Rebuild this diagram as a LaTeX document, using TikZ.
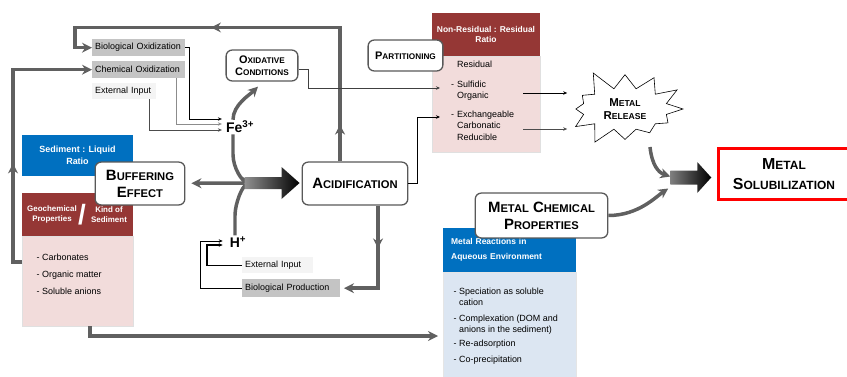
\documentclass[tikz,border=0pt]{standalone}
\usepackage{fontspec}
\setmainfont{Liberation Sans}
\usetikzlibrary{arrows.meta, calc, decorations.markings, shapes.symbols}
\definecolor{flowgray}{HTML}{606060}
\definecolor{boxedge}{HTML}{595959}
\definecolor{headred}{HTML}{953735}
\definecolor{bodyred}{HTML}{F2DCDB}
\definecolor{headblue}{HTML}{0070C0}
\definecolor{bodyblue}{HTML}{DCE6F2}
\definecolor{labgray}{HTML}{C4C4C4}
\definecolor{labwhite}{HTML}{F4F4F4}
\newcommand{\smc}[1]{\scalebox{0.75}{#1}}
\tikzset{
  flow/.style={color=flowgray, line width=3.5, -{Stealth[length=10,width=10]}},
  feed/.style={->, >={Stealth[length=4,width=3.5]}, line width=0.7},
  midarrow/.style={postaction={decorate, decoration={markings,
      mark=at position #1 with {\arrow{Stealth[length=10,width=10]}}}}},
  rbox/.style={draw=boxedge, line width=1.3, rounded corners=6, fill=white,
      align=center, inner sep=1, font=\bfseries},
  tag/.style={anchor=north west, inner xsep=3, inner ysep=0, text width=#1,
      align=left, font=\fontsize{9}{10}\selectfont},
  panel/.style={anchor=north west, inner sep=2, align=center, text=white,
      font=\bfseries\fontsize{9}{12}\selectfont},
  items/.style={anchor=north west, inner sep=0, align=left},
}

\begin{document}
\begin{tikzpicture}[x=1bp, y=-1bp]
  \useasboundingbox (0,0) rectangle (847,376);

  % iron side
  \node[tag=87, fill=labgray, minimum height=17] (bioox)  at (92,39) {Biological Oxidization};
  \node[tag=87, fill=labgray, minimum height=17] (chemox) at (92,61) {Chemical Oxidization};
  \node[tag=58, fill=labwhite, minimum height=16] (extfe) at (92,83) {External Input};
  \node[inner sep=1, font=\bfseries\fontsize{14}{14}\selectfont] (fe) at (240,127) {Fe\textsuperscript{3+}};
  \node[rbox, minimum width=72, minimum height=31, font=\bfseries\fontsize{11}{12}\selectfont]
       (oxcond) at (262,65.5) {O\smc{XIDATIVE}\\C\smc{ONDITIONS}};

  % sediment panels
  \node[panel, fill=headblue, minimum width=111, minimum height=41] (sedliq) at (22,135) {Sediment : Liquid\\Ratio};
  \node[panel, fill=headred, minimum width=111, minimum height=43] (geohead) at (22,193) {};
  \node[text=white, align=center, font=\bfseries\fontsize{8}{10}\selectfont]
       (geoprop) at ($(geohead.center)+(-25.5,0)$) {Geochemical\\Properties};
  \node[text=white, font=\bfseries\fontsize{28}{28}\selectfont] (geoslash) at ($(geohead.center)+(4.5,0)$) {/};
  \node[text=white, align=center, font=\bfseries\fontsize{8}{10}\selectfont]
       (geokind) at ($(geohead.center)+(31.5,0)$) {Kind of\\Sediment};
  \node[panel, fill=bodyred, draw=black!12, minimum width=111, minimum height=90] (geobody) at (22,236) {};
  \node[items, font=\fontsize{9}{17}\selectfont] (geoitems) at (42,253.5)
       {\llap{-\ }Carbonates\\\llap{-\ }Organic matter\\\llap{-\ }Soluble anions};

  \node[rbox, minimum width=90, minimum height=43, font=\bfseries\fontsize{15}{17}\selectfont]
       (buffer) at (140,183.5) {B\smc{UFFERING}\\E\smc{FFECT}};
  \node[rbox, minimum width=106, minimum height=43, font=\bfseries\fontsize{15}{17}\selectfont]
       (acid) at (355,183.5) {A\smc{CIDIFICATION}};

  % protons
  \node[inner sep=1, font=\bfseries\fontsize{14}{14}\selectfont] (hplus) at (238,242) {H\textsuperscript{+}};
  \node[tag=65, fill=labwhite, minimum height=16] (hext) at (242,257) {External Input};
  \node[tag=92, fill=labgray, minimum height=18] (hbio) at (242,279) {Biological Production};

  % partitioning
  \node[panel, fill=headred, minimum width=108, minimum height=43,
        font=\bfseries\fontsize{8.5}{10.5}\selectfont] (nrhead) at (432,13) {Non-Residual : Residual\\Ratio};
  \node[panel, fill=bodyred, draw=black!12, minimum width=108, minimum height=96] (nrbody) at (432,56) {};
  \node[items, font=\fontsize{9}{11}\selectfont] (resid) at (457,60.5) {Residual};
  \node[items, text width=66, font=\fontsize{9}{11}\selectfont] (sulf) at (457,80.5)
       {\llap{-\ }Sulfidic\\Organic};
  \node[items, text width=66, font=\fontsize{9}{11.5}\selectfont] (exch) at (457,110.5)
       {\llap{-\ }Exchangeable\\Carbonatic\\Reducible};
  \node[rbox, minimum width=75, minimum height=31, font=\bfseries\fontsize{11}{12}\selectfont]
       (partition) at (405.5,55.5) {P\smc{ARTITIONING}};

  % metal side
  \node[starburst, starburst points=12, starburst point height=22pt, random starburst=5,
        draw, line width=0.6, fill=white, minimum width=130pt, minimum height=86pt, align=center,
        font=\bfseries\fontsize{11.5}{13}\selectfont] (release) at (625,109) {M\smc{ETAL}\\R\smc{ELEASE}};
  \node[panel, fill=headblue, minimum height=44, text width=117, inner xsep=8, align=left,
        font=\bfseries\fontsize{8.5}{15}\selectfont] (mrhead) at (443,228) {Metal Reactions in\\Aqueous Environment};
  \node[panel, fill=bodyblue, draw=black!10, minimum width=133, minimum height=110] (mrbody) at (443,272) {};
  \node[items, font=\fontsize{9}{11.5}\selectfont] (mritems) at (459,287.5)
       {\llap{-\ }Speciation as soluble\\cation\\[4pt]\llap{-\ }Complexation (DOM and\\anions in the sediment)\\[2.5pt]%
        \llap{-\ }Re-adsorption\\[4.5pt]\llap{-\ }Co-precipitation};
  \node[rbox, minimum width=133, minimum height=45, font=\bfseries\fontsize{15}{17}\selectfont]
       (metchem) at (541.5,215.5) {M\smc{ETAL} C\smc{HEMICAL}\\P\smc{ROPERTIES}};
  \node[draw=red, line width=3, minimum width=131, minimum height=51, align=center,
        font=\bfseries\fontsize{16}{20}\selectfont] (metsol) at (784,174) {M\smc{ETAL}\\S\smc{OLUBILIZATION}};

  \coordinate (acmerge) at ($(acid.west)+(-57,-0.5)$);
  \coordinate (smerge) at ($(metsol.west)+(-47,3.5)$);

  % thick loops
  \draw[flow, midarrow=37pt, midarrow=264pt] ($(acid.north)+(-15,0)$) -- ++(0,-134)
       -| ($(bioox.west)+(-17,0)$) -- (bioox.west);
  \draw[flow, midarrow=108pt] ($(geobody.north west)+(0,26)$) -- ++(-9,0) |- (chemox.west);
  \draw[flow, shorten >=5] ($(geobody.south west)+(68,0)$) |- ($(mrbody.north west)+(0,64)$);
  \draw[flow, midarrow=43pt, shorten >=4] ($(acid.south)+(23,0)$) |- (hbio.east);

  % feeds
  \draw[feed] (bioox.east) -- ++(4,0) |- ($(fe.west)+(-3,-8)$);
  \draw[feed, black!45] ($(chemox.south east)+(-9,0)$) |- ($(fe.west)+(-3,-3)$);
  \draw[feed, black!70] ($(extfe.south east)+(-7,0)$) |- ($(fe.west)+(-3,3)$);
  \draw[feed] (hbio.west) -- ++(-42,0) |- ($(hplus.west)+(-6,-1)$);
  \draw[feed, line width=1.2] (hext.west) -- ++(-35,0) |- ($(hplus.west)+(-6,3)$);
  \draw[feed, black!75] ($(oxcond.east)+(0,3.5)$) -- ++(10,0) |- ($(sulf.north west)+(-17,7.5)$);
  \draw[feed] (acid.east) -- ++(9,0) |- ($(exch.north west)+(-17,6.5)$);
  \draw[feed] ($(sulf.north east)+(0,12.5)$) -- ++(44,0);
  \draw[feed, black!70] ($(exch.north east)+(0,18.5)$) -- ++(44,0);

  % acidification merge
  \draw[flow] ($(fe.north)+(-7,0)$) .. controls +(0,-15) and +(-8,8) .. ($(oxcond.south)+(-4,5)$);
  \draw[flow] ($(fe.south)+(-7,0)$) -- ++(0,20) .. controls +(0,14) and +(-10,0) .. ($(acmerge)+(8,-1)$);
  \draw[flow] ($(hplus.north)+(-3,0)$) -- ++(0,-20) .. controls +(0,-12) and +(-10,0) .. ($(acmerge)+(8,2)$);
  \draw[flow, {Stealth[length=10,width=10]}-, shorten <=6] (buffer) -- (acmerge);
  \shade[left color=flowgray!70, right color=black] (acmerge) ++(0,-6) -- ++(37,0) -- ++(0,-10)
       -- ++(18,16) -- ++(-18,16) -- ++(0,-10) -- ++(-37,0) -- cycle;

  % solubilization merge
  \draw[flow] ($(release.center)+(25,38)$) .. controls +(2,18) and +(-12,-4) .. ($(smerge)+(0,-1)$);
  \draw[flow] (metchem.east) .. controls +(30,0) and +(-12,8) .. ($(smerge)+(-2,11)$);
  \shade[left color=flowgray!80, right color=black] (smerge) ++(0,-7) -- ++(27,0) -- ++(0,-8.5)
       -- ++(14,15.5) -- ++(-14,15.5) -- ++(0,-8.5) -- ++(-27,0) -- cycle;
\end{tikzpicture}
\end{document}
